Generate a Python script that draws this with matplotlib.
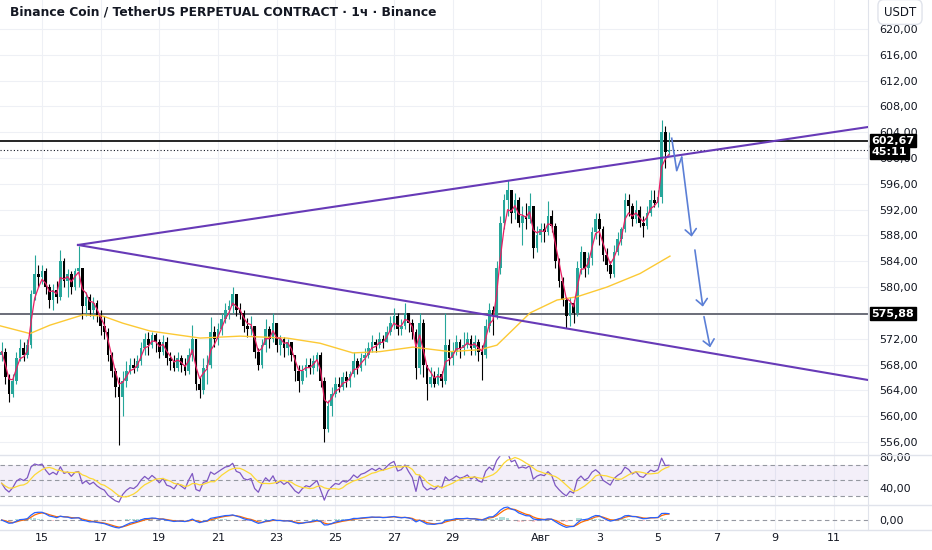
import numpy as np
import pandas as pd
import matplotlib
matplotlib.use('Agg')
import matplotlib.pyplot as plt
import matplotlib.transforms as mtransforms
from matplotlib.lines import Line2D
from matplotlib.ticker import FuncFormatter

# 3h candles from Jul 13 15:00 to Aug 5 09:00, x in "day of July" (Aug 1 = 32)
first_open = 569.5
closes = [
    570.0, 566.0, 563.5,                                            # Jul 13
    565.5, 569.0, 570.5, 569.5, 571.0, 579.0, 582.0, 581.5,         # Jul 14
    582.5, 580.0, 578.0, 579.5, 578.5, 584.0, 581.0, 582.0,         # Jul 15
    580.0, 582.5, 583.0, 577.0, 578.5, 576.5, 577.5, 575.5,         # Jul 16
    574.0, 573.0, 569.5, 567.0, 564.5, 563.0, 565.5, 567.0,         # Jul 17
    568.0, 567.5, 568.5, 570.5, 572.0, 571.0, 572.5, 571.5,         # Jul 18
    570.0, 571.5, 569.0, 568.5, 567.5, 569.0, 568.0, 567.0,         # Jul 19
    569.5, 572.0, 565.0, 564.0, 567.5, 568.0, 573.0, 572.0,         # Jul 20
    573.5, 575.0, 576.5, 577.0, 579.0, 576.5, 576.0, 574.0,         # Jul 21
    573.5, 574.0, 570.0, 568.0, 571.0, 573.5, 572.0, 574.5,         # Jul 22
    571.0, 572.0, 570.5, 571.5, 569.5, 567.0, 565.5, 567.0,         # Jul 23
    568.0, 567.5, 568.5, 569.5, 565.5, 558.0, 561.5, 563.5,         # Jul 24
    565.0, 564.5, 566.0, 565.5, 566.5, 568.5, 567.5, 569.0,         # Jul 25
    569.5, 570.5, 571.5, 571.0, 572.0, 571.5, 573.0, 574.5,         # Jul 26
    575.5, 573.5, 574.0, 576.0, 574.5, 573.0, 567.5, 574.5,         # Jul 27
    568.0, 565.0, 566.0, 565.0, 566.5, 565.5, 571.0, 569.0,         # Jul 28
    570.0, 571.5, 570.5, 571.0, 572.0, 570.5, 571.5, 570.0,         # Jul 29
    569.5, 574.0, 576.5, 575.5, 583.0, 590.0, 593.5, 595.0,         # Jul 30
    591.5, 593.5, 590.0, 591.0, 590.5, 592.5, 586.0, 588.0,         # Jul 31
    589.0, 588.5, 591.0, 589.5, 584.0, 581.0, 578.0, 575.5,         # Aug 1
    577.5, 576.0, 583.0, 585.5, 583.0, 584.5, 588.5, 590.5,         # Aug 2
    589.0, 585.0, 583.5, 582.0, 585.5, 587.5, 589.0, 593.5,         # Aug 3
    592.5, 590.5, 592.0, 590.0, 589.5, 591.5, 593.5, 593.0,         # Aug 4
    594.0, 604.0, 601.0, 601.3,                                     # Aug 5
]
highs = [
    571.5, 570.5, 566.5,
    566.5, 570.0, 572.0, 571.5, 572.0, 579.5, 585.0, 583.5,
    583.5, 583.0, 580.5, 580.5, 581.0, 585.7, 584.5, 582.8,
    582.5, 583.0, 586.3, 583.0, 579.2, 579.0, 578.5, 578.0,
    576.5, 575.5, 573.6, 570.0, 567.5, 566.0, 567.0, 568.5,
    569.0, 569.0, 569.5, 571.5, 572.9, 573.0, 573.0, 572.9,
    572.0, 572.5, 572.3, 570.0, 569.5, 570.0, 569.5, 569.0,
    570.5, 574.1, 572.0, 566.0, 569.0, 569.5, 575.4, 574.0,
    574.5, 576.0, 577.5, 578.0, 580.0, 579.0, 577.5, 576.5,
    575.2, 575.5, 574.0, 570.5, 572.0, 575.0, 574.0, 576.0,
    574.5, 572.5, 572.3, 572.0, 571.5, 569.5, 568.0, 568.0,
    569.0, 569.0, 569.5, 570.0, 570.0, 566.0, 562.5, 564.5,
    566.0, 566.0, 566.8, 567.0, 567.0, 570.0, 569.0, 569.8,
    570.5, 571.5, 572.5, 572.0, 573.0, 572.5, 574.0, 575.5,
    576.8, 576.0, 575.0, 577.5, 576.0, 575.0, 573.5, 576.0,
    575.0, 568.0, 567.6, 567.0, 567.6, 567.0, 576.0, 572.0,
    571.5, 572.5, 572.0, 573.0, 573.0, 572.5, 572.5, 572.0,
    571.0, 575.0, 577.5, 577.0, 584.0, 591.0, 594.5, 596.6,
    595.0, 594.6, 594.0, 592.5, 593.0, 594.6, 592.5, 589.5,
    590.0, 590.0, 593.3, 592.0, 590.0, 584.5, 581.5, 578.5,
    578.5, 578.0, 584.0, 586.3, 585.5, 585.5, 589.3, 591.5,
    591.5, 589.5, 586.0, 584.0, 586.5, 588.5, 589.3, 594.6,
    594.5, 593.0, 593.5, 592.5, 591.0, 592.5, 595.0, 595.0,
    595.0, 605.9, 605.0, 604.0,
]
lows = [
    568.5, 565.0, 562.2,
    563.0, 565.0, 568.5, 568.5, 569.0, 570.5, 578.0, 580.0,
    580.5, 579.0, 576.8, 576.5, 577.5, 578.0, 580.0, 578.5,
    579.0, 579.5, 580.0, 575.0, 575.5, 575.5, 575.0, 574.6,
    572.6, 572.0, 568.5, 566.0, 563.0, 555.5, 560.0, 564.5,
    566.5, 566.7, 567.0, 568.0, 569.5, 569.5, 570.5, 570.0,
    569.0, 569.5, 568.0, 567.2, 567.0, 567.0, 566.8, 566.4,
    566.5, 568.5, 564.0, 562.8, 563.5, 565.0, 567.5, 570.7,
    571.0, 572.5, 574.5, 575.0, 576.0, 575.5, 575.0, 573.0,
    572.3, 572.5, 569.0, 567.2, 567.5, 570.0, 570.5, 571.5,
    570.0, 569.5, 569.2, 569.5, 568.5, 565.5, 563.8, 565.0,
    566.0, 566.5, 566.5, 567.0, 564.5, 556.0, 557.5, 560.0,
    563.0, 563.8, 564.0, 564.5, 564.5, 566.0, 566.5, 567.0,
    568.0, 569.0, 570.0, 570.0, 570.5, 570.5, 571.5, 572.5,
    573.5, 572.5, 572.5, 573.5, 573.0, 572.0, 565.8, 566.5,
    566.0, 562.5, 564.5, 564.5, 564.8, 564.5, 565.0, 568.0,
    568.0, 569.5, 569.0, 569.5, 570.5, 569.5, 569.5, 568.5,
    565.6, 569.0, 573.0, 572.5, 575.0, 582.0, 589.0, 591.0,
    590.0, 590.5, 589.3, 586.5, 589.0, 590.0, 584.5, 585.5,
    587.0, 587.0, 588.0, 588.5, 583.0, 580.0, 577.0, 573.7,
    574.0, 574.5, 575.5, 582.0, 581.5, 582.0, 583.5, 587.5,
    586.5, 584.0, 582.5, 581.4, 581.5, 585.0, 586.5, 588.5,
    591.0, 589.5, 590.0, 589.3, 587.8, 589.0, 591.0, 592.4,
    592.4, 593.0, 598.5, 600.5,
]

# slow moving average (yellow)
ma_t = [13.57, 14.59, 15.27, 16.40, 17.08, 17.76, 18.68, 20.39, 21.75, 23.35,
        24.48, 25.60, 26.52, 27.65, 28.91, 29.93, 30.51, 31.10, 31.64, 32.56,
        33.24, 34.26, 35.39, 36.41]
ma_v = [574.0, 572.8, 574.1, 575.7, 575.5, 574.4, 573.2, 572.1, 572.4, 572.1,
        571.3, 569.8, 570.0, 570.7, 570.0, 570.3, 571.0, 573.6, 576.0, 578.0,
        578.5, 580.0, 582.1, 584.8]

# drawings
apex = (16.227, 586.53)
upper_end = (43.4, 604.97)
lower_end = (43.4, 565.42)
support = 575.88
resist = 602.67
last_price = 601.25
arrow_paths = [
    ([36.47, 36.64, 36.81, 37.15], [603.06, 598.04, 600.12, 587.81]),
    ([37.26, 37.53], [585.75, 576.97]),
    ([37.57, 37.78], [575.42, 570.67]),
]

date_ticks = [15, 17, 19, 21, 23, 25, 27, 29, 32, 34, 36, 38, 40, 42]
date_labels = ['15', '17', '19', '21', '23', '25', '27', '29', 'Авг',
               '3', '5', '7', '9', '11']
price_ticks = [556, 560, 564, 568, 572, 580, 584, 588, 592, 596, 600, 604,
               608, 612, 616, 620]
grid_ticks = list(range(556, 621, 4))

title = 'Binance Coin / TetherUS PERPETUAL CONTRACT · 1ч · Binance'

# ---------------------------------------------------------------
c = np.array(closes)
o = np.array([first_open] + closes[:-1])
h = np.maximum(np.array(highs), np.maximum(o, c))
l = np.minimum(np.array(lows), np.minimum(o, c))
t = 13.625 + 0.125 * np.arange(len(c))

cs = pd.Series(c)
ema_fast = cs.ewm(span=3, adjust=False).mean()

# RSI with a neutral warm-up seed (history before the window is unknown)
d = cs.diff().fillna(0)
gain = d.clip(lower=0)
loss = -d.clip(upper=0)
gain.iloc[0] = 1.2
loss.iloc[0] = 1.4
up = gain.ewm(alpha=1 / 9, adjust=False).mean()
dn = loss.ewm(alpha=1 / 9, adjust=False).mean()
rsi = 100 - 100 / (1 + up / dn)
rsi_ma = rsi.rolling(6, min_periods=1).mean()

macd = cs.ewm(span=4, adjust=False).mean() - cs.ewm(span=9, adjust=False).mean()
signal = macd.ewm(span=3, adjust=False).mean()
hist = macd - signal

fmt = FuncFormatter(lambda v, p: f'{v:.2f}'.replace('.', ','))
grid_c = '#eef0f5'
sep_c = '#e0e3eb'
txt_c = '#131722'

W, H = 932, 550
fig = plt.figure(figsize=(W / 100, H / 100), dpi=100)
fig.patch.set_facecolor('white')
ax = fig.add_axes([0, 1 - 455 / H, 868 / W, 455 / H])
ax_rsi = fig.add_axes([0, 1 - 505 / H, 868 / W, 50 / H], sharex=ax)
ax_macd = fig.add_axes([0, 1 - 530 / H, 868 / W, 25 / H], sharex=ax)

for a in (ax, ax_rsi, ax_macd):
    for s in a.spines.values():
        s.set_visible(False)
    a.spines['right'].set_visible(True)
    a.spines['right'].set_color(sep_c)
    a.yaxis.tick_right()
    a.tick_params(axis='y', length=0, pad=8, labelsize=8, labelcolor=txt_c)
    a.tick_params(axis='x', length=0)
    a.set_xticks(date_ticks)
    a.grid(axis='x', color=grid_c, lw=0.8)
    a.set_axisbelow(True)

ax.set_xlim(13.568, 43.162)

# main pane
ax.set_ylim(553.98, 624.49)
ax.set_yticks(price_ticks)
ax.yaxis.set_major_formatter(fmt)
for g in grid_ticks:
    ax.axhline(g, color=grid_c, lw=0.8, zorder=0)
ax.tick_params(axis='x', labelbottom=False)

cols = np.where(c >= o, '#26a69a', '#000000')
ax.vlines(t, l, h, colors=cols, lw=0.8, zorder=3)
body = np.maximum(np.abs(c - o), 0.15)
ax.bar(t, body, bottom=np.minimum(o, c), width=0.085, color=cols, zorder=3)

ax.plot(ma_t, ma_v, color='#fcc934', lw=1.0, zorder=4)
ax.plot(t, ema_fast, color='#e91e63', lw=0.9, zorder=4)

ax.axhline(support, color='#6a6d78', lw=1.4, zorder=2)
ax.axhline(resist, color='#000000', lw=1.2, zorder=2)
ax.axhline(last_price, color='#131722', lw=0.8, ls=(0, (1, 2)), zorder=2)

ax.plot([apex[0], upper_end[0]], [apex[1], upper_end[1]], color='#673ab7', lw=1.5, zorder=5)
ax.plot([apex[0], lower_end[0]], [apex[1], lower_end[1]], color='#673ab7', lw=1.5, zorder=5)

arrow_c = '#5b7fd6'
for xs, ys in arrow_paths:
    if len(xs) > 2:
        ax.plot(xs[:-1], ys[:-1], color=arrow_c, lw=1.2, zorder=6)
    ax.annotate('', xy=(xs[-1], ys[-1]), xytext=(xs[-2], ys[-2]),
                arrowprops=dict(arrowstyle='->,head_length=0.45,head_width=0.4',
                                color=arrow_c, lw=1.2, shrinkA=0, shrinkB=0),
                zorder=6)

tr = mtransforms.blended_transform_factory(ax.transAxes, ax.transData)
for val, txt in [(resist, '602,67'), (600.95, '45:11'), (support, '575,88')]:
    ax.text(1.004, val, txt, transform=tr, ha='left', va='center', fontsize=8,
            color='white', fontweight='bold', clip_on=False, zorder=10,
            bbox=dict(boxstyle='square,pad=0.15', fc='black', ec='black'))

# RSI pane
ax_rsi.set_ylim(18.06, 82.6)
ax_rsi.axhspan(30, 70, color='#7e57c2', alpha=0.09, lw=0)
for lvl in (70, 50, 30):
    ax_rsi.axhline(lvl, color='#9598a1', lw=0.8, ls=(0, (4, 3)))
ax_rsi.plot(t, rsi, color='#7e57c2', lw=0.9)
ax_rsi.plot(t, rsi_ma, color='#fdd835', lw=0.9)
ax_rsi.set_yticks([40, 80])
ax_rsi.yaxis.set_major_formatter(fmt)
ax_rsi.tick_params(axis='x', labelbottom=False)

# MACD pane
top = max(macd.max(), signal.max(), 1e-6)
bot = min(macd.min(), signal.min(), -1e-6)
k = max(top / 13, -bot / 9)
ax_macd.set_ylim(-10 * k, 15 * k)
ax_macd.axhline(0, color='#9598a1', lw=0.8, ls=(0, (4, 3)))
ax_macd.bar(t, hist, width=0.1, color=np.where(hist >= 0, '#b2dfdb', '#ffcdd2'))
ax_macd.plot(t, signal, color='#ff6d00', lw=0.9)
ax_macd.plot(t, macd, color='#2962ff', lw=0.9)
ax_macd.set_yticks([0])
ax_macd.yaxis.set_major_formatter(fmt)
ax_macd.set_xticklabels(date_labels)
ax_macd.tick_params(axis='x', labelsize=8, labelcolor=txt_c, pad=2.5)

# separators
for yy in (455, 505, 530):
    fig.add_artist(Line2D([0, 1], [1 - yy / H] * 2, transform=fig.transFigure,
                          color=sep_c, lw=1))

fig.text(10 / W, 1 - 12 / H, title, fontsize=8.8, fontweight='bold',
         color=txt_c, va='center', ha='left')
fig.text(900 / W, 1 - 12 / H, 'USDT', fontsize=8.5, color=txt_c, ha='center',
         va='center', bbox=dict(boxstyle='round,pad=0.5', fc='white', ec=sep_c))

fig.savefig('out.png', dpi=100, facecolor='white')
